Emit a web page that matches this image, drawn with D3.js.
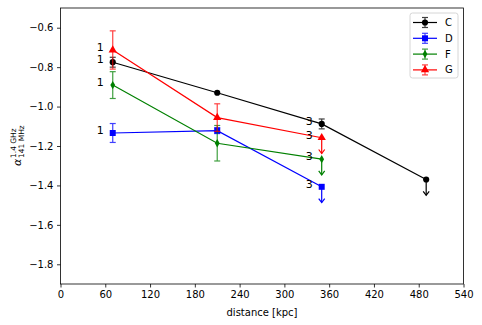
<!DOCTYPE html>
<html>
<head>
<meta charset="utf-8">
<script src="https://cdn.jsdelivr.net/npm/d3@7"></script>
<style>
  body { margin: 0; background: #fff; }
  text { font-family: "DejaVu Sans", sans-serif; }
</style>
</head>
<body>
<div id="chart"></div>
<script>
// distances in kpc
const distance = [70, 210, 350, 490];

const seriesNames = ['C', 'D', 'F', 'G'];
const seriesColors = ['#000000', '#0000ff', '#008000', '#ff0000'];
const seriesMarkers = ['circle', 'square', 'diamond', 'triangle'];

// spectral index values (null = no point)
const valuesC = [-0.775, -0.93, -1.088, -1.37];
const valuesD = [-1.134, -1.122, -1.407, null];
const valuesF = [-0.891, -1.186, -1.267, null];
const valuesG = [-0.713, -1.056, -1.158, null];

const errC = [0.025, 0, 0.025, 0];
const errD = [0.048, 0.015, 0, null];
const errF = [0.068, 0.09, 0, null];
const errG = [0.097, 0.07, 0, null];

// upper limits (drawn as arrows)
const limitsC = [false, false, false, true];
const limitsD = [false, false, true, null];
const limitsF = [false, false, true, null];
const limitsG = [false, false, true, null];

// region labels next to points
const pointLabels = ['1', '', '3', ''];

const xTicks = [0, 60, 120, 180, 240, 300, 360, 420, 480, 540];
const yTicks = [-1.8, -1.6, -1.4, -1.2, -1.0, -0.8, -0.6];

const W = 482, H = 325;
const margin = { left: 60.5, right: 18.5, top: 8, bottom: 41 };
const width = W - margin.left - margin.right;
const height = H - margin.top - margin.bottom;

const series = [
  { vals: valuesC, err: errC, lim: limitsC },
  { vals: valuesD, err: errD, lim: limitsD },
  { vals: valuesF, err: errF, lim: limitsF },
  { vals: valuesG, err: errG, lim: limitsG },
].map((s, i) => ({
  name: seriesNames[i],
  color: seriesColors[i],
  marker: seriesMarkers[i],
  points: distance
    .map((d, j) => ({ x: d, y: s.vals[j], e: s.err[j], lim: s.lim[j], label: pointLabels[j] }))
    .filter((p) => p.y !== null),
}));

const x = d3.scaleLinear().domain([0, 540]).range([0, width]);
const y = d3.scaleLinear().domain([-1.9, -0.5]).range([height, 0]);

const svg = d3.select('#chart').append('svg')
  .attr('width', W).attr('height', H);

const g = svg.append('g')
  .attr('transform', `translate(${margin.left},${margin.top})`);

const fmt = (v) => d3.format('.1f')(v).replace('-', '\u2212');

// axes
const xAxis = g.append('g')
  .attr('transform', `translate(0,${height})`)
  .call(d3.axisBottom(x).tickValues(xTicks).tickSize(3.5).tickPadding(3.5));
const yAxis = g.append('g')
  .call(d3.axisLeft(y).tickValues(yTicks).tickFormat(fmt).tickSize(3.5).tickPadding(3.5));

[xAxis, yAxis].forEach((a) => {
  a.select('.domain').remove();
  a.selectAll('.tick line').attr('stroke', '#000').attr('stroke-width', 0.8);
  a.selectAll('.tick text').attr('font-size', 10).attr('fill', '#000')
    .style('font-family', '"DejaVu Sans", sans-serif');
});

// frame
g.append('rect')
  .attr('width', width).attr('height', height)
  .attr('fill', 'none').attr('stroke', '#000').attr('stroke-width', 0.8);

const symbolFor = (m) => {
  if (m === 'circle') return d3.symbol(d3.symbolCircle, 30)();
  if (m === 'square') return d3.symbol(d3.symbolSquare, 36)();
  if (m === 'diamond') return d3.symbol(d3.symbolDiamond, 20)();
  return d3.symbol(d3.symbolTriangle, 30)();
};

const arrowLen = 0.08;

series.forEach((s) => {
  const sg = g.append('g');

  // connecting line
  sg.append('path')
    .datum(s.points)
    .attr('fill', 'none')
    .attr('stroke', s.color)
    .attr('stroke-width', 1.2)
    .attr('d', d3.line().x((d) => x(d.x)).y((d) => y(d.y)));

  // error bars
  s.points.filter((p) => !p.lim && p.e > 0).forEach((p) => {
    const px = x(p.x);
    const eg = sg.append('g').attr('stroke', s.color).attr('stroke-width', 1.2).attr('opacity', 0.75);
    eg.append('line').attr('x1', px).attr('x2', px)
      .attr('y1', y(p.y - p.e)).attr('y2', y(p.y + p.e));
    [p.y - p.e, p.y + p.e].forEach((v) => {
      eg.append('line').attr('x1', px - 3).attr('x2', px + 3)
        .attr('y1', y(v)).attr('y2', y(v));
    });
  });

  // upper-limit arrows
  s.points.filter((p) => p.lim).forEach((p) => {
    const px = x(p.x);
    const yEnd = y(p.y - arrowLen);
    const ag = sg.append('g').attr('stroke', s.color).attr('stroke-width', 1.2)
      .attr('fill', 'none');
    ag.append('line').attr('x1', px).attr('x2', px)
      .attr('y1', y(p.y)).attr('y2', yEnd);
    ag.append('path')
      .attr('d', `M${px - 3},${yEnd - 4}L${px},${yEnd}L${px + 3},${yEnd - 4}`);
  });

  // markers
  sg.selectAll('path.marker')
    .data(s.points)
    .join('path')
    .attr('class', 'marker')
    .attr('transform', (d) => `translate(${x(d.x)},${y(d.y)})`)
    .attr('d', symbolFor(s.marker))
    .attr('fill', s.color);

  // region labels
  sg.selectAll('text.lab')
    .data(s.points.filter((p) => p.label))
    .join('text')
    .attr('class', 'lab')
    .attr('x', (d) => x(d.x) - 9)
    .attr('y', (d) => y(d.y) + 1)
    .attr('text-anchor', 'end')
    .attr('font-size', 11)
    .attr('fill', '#000')
    .text((d) => d.label);
});

// axis titles
svg.append('text')
  .attr('x', margin.left + width / 2)
  .attr('y', 316)
  .attr('text-anchor', 'middle')
  .attr('font-size', 10)
  .text('distance [kpc]');

const yl = svg.append('g')
  .attr('transform', `translate(21,${margin.top + height / 2}) rotate(-90)`);
yl.append('text')
  .attr('x', -20).attr('y', 0)
  .attr('font-size', 11)
  .attr('font-style', 'italic')
  .text('α');
yl.append('text')
  .attr('x', -12).attr('y', -5)
  .attr('font-size', 7.5)
  .text('1.4 GHz');
yl.append('text')
  .attr('x', -12).attr('y', 3)
  .attr('font-size', 7.5)
  .text('141 MHz');

// legend
const lg = svg.append('g').attr('transform', 'translate(410,13)');
lg.append('rect')
  .attr('width', 48).attr('height', 65)
  .attr('rx', 2.5)
  .attr('fill', '#fff').attr('fill-opacity', 0.8)
  .attr('stroke', '#ccc').attr('stroke-width', 0.8);

series.forEach((s, i) => {
  const ly = 9.5 + i * 15.8;
  const row = lg.append('g').attr('transform', `translate(0,${ly})`);
  row.append('line').attr('x1', 3).attr('x2', 27).attr('y1', 0).attr('y2', 0)
    .attr('stroke', s.color).attr('stroke-width', 1.2);
  const eb = row.append('g').attr('stroke', s.color).attr('stroke-width', 1.2).attr('opacity', 0.75);
  eb.append('line').attr('x1', 15).attr('x2', 15).attr('y1', -5).attr('y2', 5);
  eb.append('line').attr('x1', 12).attr('x2', 18).attr('y1', -5).attr('y2', -5);
  eb.append('line').attr('x1', 12).attr('x2', 18).attr('y1', 5).attr('y2', 5);
  row.append('path')
    .attr('transform', 'translate(15,0)')
    .attr('d', symbolFor(s.marker))
    .attr('fill', s.color);
  row.append('text')
    .attr('x', 35).attr('y', 3.5)
    .attr('font-size', 10)
    .text(s.name);
});
</script>
</body>
</html>
